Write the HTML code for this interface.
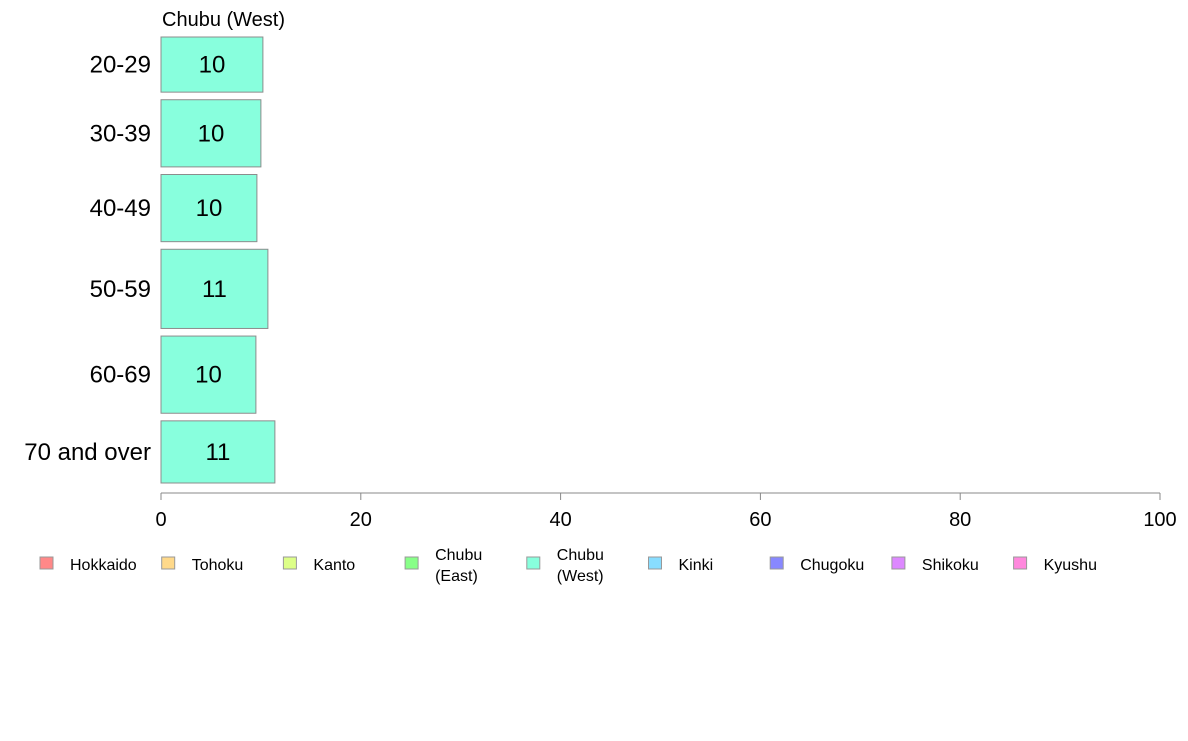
<!DOCTYPE html>
<html><head><meta charset="utf-8">
<style>
body{margin:0;background:#fff;font-family:"Liberation Sans",Arial,sans-serif;}
svg text{font-family:"Liberation Sans",Arial,sans-serif;}
</style></head>
<body>
<svg id="chart" width="1188" height="736" viewBox="0 0 1188 736" xmlns="http://www.w3.org/2000/svg">
<rect width="1188" height="736" fill="#fff"/>
<text x="162" y="26" font-size="20" fill="#000">Chubu (West)</text>
<g id="bars"></g>
<g id="axis"></g>
<g id="legend"></g>
</svg>
<script>
const categories = ["20-29","30-39","40-49","50-59","60-69","70 and over"];
const values = [10.2, 10.0, 9.6, 10.7, 9.5, 11.4];
const labels = ["10","10","10","11","10","11"];
const weights = [55, 67, 67, 79, 77, 62];
const ticks = [0,20,40,60,80,100];
const legendNames = [["Hokkaido"],["Tohoku"],["Kanto"],["Chubu","(East)"],["Chubu","(West)"],["Kinki"],["Chugoku"],["Shikoku"],["Kyushu"]];
const legendColors = ["#ff8888","#ffd98a","#ddff88","#88ff88","#88ffdd","#88ddff","#8888ff","#dd88ff","#ff88dd"];

const NS="http://www.w3.org/2000/svg";
function mk(tag,attrs,parent){const e=document.createElementNS(NS,tag);for(const k in attrs)e.setAttribute(k,attrs[k]);parent.appendChild(e);return e;}
const x0=161,x1=1160,yTop=37,yBot=483,gap=7.6;
const xs=v=>x0+(v/100)*(x1-x0);
const totalW=weights.reduce((a,b)=>a+b,0);
const avail=(yBot-yTop)-gap*(categories.length-1);
const bars=document.getElementById('bars');
let y=yTop;
categories.forEach((c,i)=>{
  const h=weights[i]/totalW*avail;
  const r=mk('rect',{x:xs(0),y:y,width:xs(values[i])-xs(0),height:h,fill:"#88ffdd",stroke:"#8c8c8c","stroke-width":1},bars);
  
  
  const t=mk('text',{x:(xs(0)+xs(values[i]))/2,y:y+h/2+8,"font-size":24,"text-anchor":"middle",fill:"#000"},bars);
  t.textContent=labels[i];
  
  
  const l=mk('text',{x:151,y:y+h/2+8,"font-size":24,"text-anchor":"end",fill:"#000"},bars);
  l.textContent=c;
  
  
  y+=h+gap;
});
const axis=document.getElementById('axis');
const al=mk('line',{x1:x0,x2:x1,y1:493,y2:493,stroke:"#888","stroke-width":1},axis);


ticks.forEach(t=>{
  const tl=mk('line',{x1:xs(t),x2:xs(t),y1:493,y2:500,stroke:"#888"},axis);
  
  
  const tt=mk('text',{x:xs(t),y:526,"font-size":20,"text-anchor":"middle",fill:"#000"},axis);
  tt.textContent=t;
  
  
});
const lg=document.getElementById('legend');
legendNames.forEach((n,i)=>{
  const bx=40+i*121.7;
  const g=mk('g',{},lg);
  
  
  mk('rect',{x:bx,y:557,width:13,height:12,fill:legendColors[i],stroke:"#999","stroke-width":1},g);
  if(n.length===1){
    const t=mk('text',{x:bx+30,y:570,"font-size":16,fill:"#000"},g);t.textContent=n[0];
  }else{
    const t1=mk('text',{x:bx+30,y:560,"font-size":16,fill:"#000"},g);t1.textContent=n[0];
    const t2=mk('text',{x:bx+30,y:581,"font-size":16,fill:"#000"},g);t2.textContent=n[1];
  }
});
</script>
</body></html>
